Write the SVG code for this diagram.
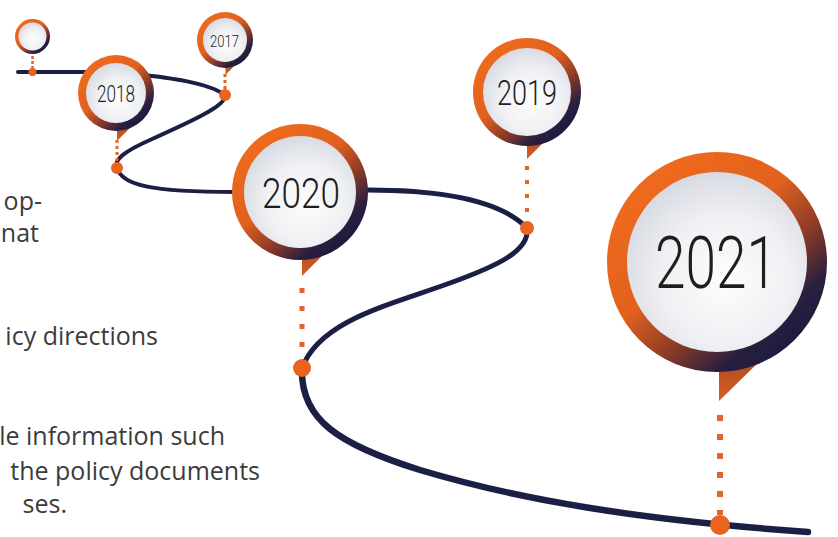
<svg xmlns="http://www.w3.org/2000/svg" width="838" height="537" viewBox="0 0 838 537">
<defs>
  <linearGradient id="ring" x1="0.15" y1="0.1" x2="0.85" y2="0.9">
    <stop offset="0" stop-color="#ef6b1d"/>
    <stop offset="0.42" stop-color="#e1611d"/>
    <stop offset="0.66" stop-color="#8a3a28"/>
    <stop offset="0.85" stop-color="#2a1f3f"/>
    <stop offset="1" stop-color="#1a1a3e"/>
  </linearGradient>
  <radialGradient id="disc" cx="0.55" cy="0.6" r="0.6">
    <stop offset="0" stop-color="#fdfdfd"/>
    <stop offset="0.6" stop-color="#eff0f3"/>
    <stop offset="1" stop-color="#d8dbe3"/>
  </radialGradient>
  <linearGradient id="tail" x1="0" y1="0" x2="0" y2="1">
    <stop offset="0" stop-color="#a94a24"/>
    <stop offset="1" stop-color="#d85e20"/>
  </linearGradient>
</defs>
<style>
  .ring { fill: url(#ring); }
  .disc { fill: url(#disc); }
  .tail { fill: url(#tail); }
  .road { fill: none; stroke: #1c1f45; stroke-linecap: round; stroke-linejoin: round; }
  .stem { stroke: #e0652a; fill: none; }
  .pin { fill: #e8641f; }
  .year { font-family: Roboto, "Liberation Sans", sans-serif; font-weight: 300; fill: #1e1e1e; text-anchor: middle; }
  .body { font-family: "Open Sans", "Noto Sans", sans-serif; font-size: 25px; fill: #3c3c3c; text-anchor: end; }
</style>
<rect width="838" height="537" fill="#ffffff"/>

<g id="texts">
  <text class="body" x="42" y="210">op-</text>
  <text class="body" x="39" y="242">nat</text>
  <text class="body" x="158" y="345">icy directions</text>
  <text class="body" x="225" y="445">le information such</text>
  <text class="body" x="260" y="480">the policy documents</text>
  <text class="body" x="67" y="513">ses.</text>
</g>

<g id="connectors">
  <path class="road" stroke-width="4" d="M18,72 L120,72 C150,76 205,80 225,95 C228,105 190,122 150,140 C125,151 113,160 117,168 C122,185 150,192 235,192"/>
  <path class="road" stroke-width="5" d="M235,192 L368,190 C440,190 500,200 527,228 C530,250 500,265 450,283 C390,305 320,320 302,368"/>
  <path class="road" stroke-width="6.5" d="M302,368 C300,420 340,445 420,470 C520,500 640,520 808,532"/>
</g>

<g id="node-start">
  <line class="stem" x1="32.5" y1="56" x2="32.5" y2="68" stroke-width="2.5" stroke-dasharray="3 2"/>
  <circle class="pin" cx="32.5" cy="72" r="4"/>
  <circle class="ring" cx="32.5" cy="36.5" r="17.5"/>
  <circle class="disc" cx="32.5" cy="36.5" r="14"/>
</g>

<g id="node-2017">
  <line class="stem" x1="225" y1="74" x2="225" y2="90" stroke-width="3" stroke-dasharray="3 3"/>
  <circle class="pin" cx="225" cy="95" r="6"/>
  <polygon class="tail" points="225.5,62 238,62 225.5,75"/>
  <circle class="ring" cx="225" cy="40" r="28"/>
  <circle class="disc" cx="225" cy="40" r="22"/>
  <text class="year" x="224.5" y="47" font-size="16.5" textLength="29" lengthAdjust="spacingAndGlyphs">2017</text>
</g>

<g id="node-2018">
  <line class="stem" x1="117" y1="140" x2="117" y2="163" stroke-width="3" stroke-dasharray="3 3"/>
  <circle class="pin" cx="117" cy="168" r="6"/>
  <polygon class="tail" points="117,124 134,124 117,141"/>
  <circle class="ring" cx="116" cy="93" r="38"/>
  <circle class="disc" cx="116" cy="93" r="30"/>
  <text class="year" x="116" y="102" font-size="24" textLength="38" lengthAdjust="spacingAndGlyphs">2018</text>
</g>

<g id="node-2020">
  <line class="stem" x1="302" y1="288" x2="302" y2="358" stroke-width="5" stroke-dasharray="5 13"/>
  <circle class="pin" cx="302" cy="368" r="9"/>
  <polygon class="tail" points="302,246 332,246 302,276"/>
  <circle class="ring" cx="300" cy="192" r="68"/>
  <circle class="disc" cx="300" cy="192" r="56"/>
  <text class="year" x="301" y="208" font-size="42" textLength="78" lengthAdjust="spacingAndGlyphs">2020</text>
</g>

<g id="node-2019">
  <line class="stem" x1="527" y1="166" x2="527" y2="220" stroke-width="4" stroke-dasharray="4 10"/>
  <circle class="pin" cx="527" cy="228" r="7"/>
  <polygon class="tail" points="527,135 551,135 527,159"/>
  <circle class="ring" cx="527" cy="92" r="54"/>
  <circle class="disc" cx="527" cy="92" r="44"/>
  <text class="year" x="527" y="105" font-size="35" textLength="60" lengthAdjust="spacingAndGlyphs">2019</text>
</g>

<g id="node-2021">
  <line class="stem" x1="720" y1="415" x2="720" y2="515" stroke-width="6" stroke-dasharray="6 13"/>
  <circle class="pin" cx="720" cy="525" r="10"/>
  <polygon class="tail" points="719,355 766,355 719,401"/>
  <circle class="ring" cx="717" cy="262" r="110"/>
  <circle class="disc" cx="717" cy="262" r="90"/>
  <text class="year" x="716" y="288" font-size="72" textLength="122" lengthAdjust="spacingAndGlyphs">2021</text>
</g>
</svg>
